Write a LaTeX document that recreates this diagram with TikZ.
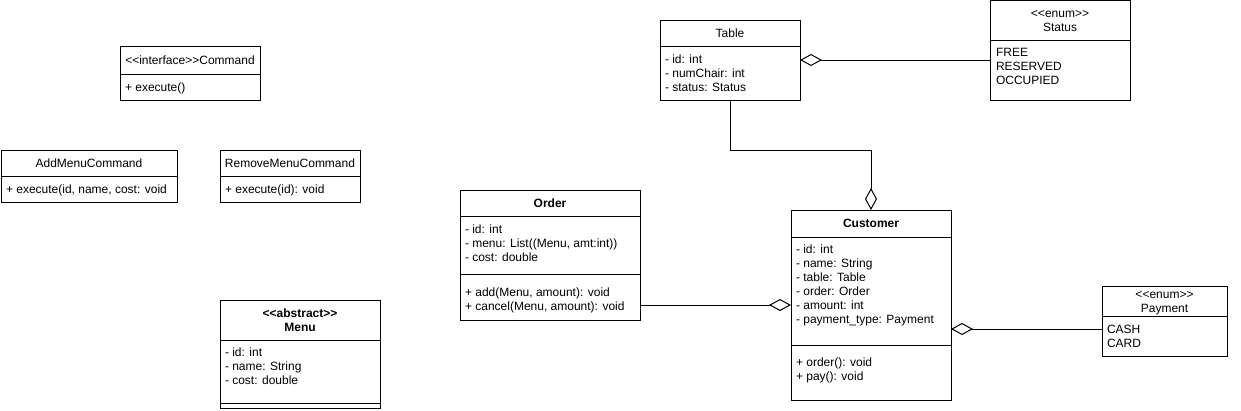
\documentclass[tikz,border=0pt]{standalone}
\usepackage{fontspec}
\setmainfont{Liberation Sans}
\usetikzlibrary{arrows.meta}
\newcommand\attrlines[4]{%
  \foreach \t [count=\i] in {#4} {\node[txt] (#1-\i) at (#2, #3+14*\i-14) {\t};}}
\begin{document}
\begin{tikzpicture}[x=1pt,y=-1pt,line width=1pt,
  box/.style={draw, rectangle, anchor=north west, inner sep=0pt, outer sep=0pt},
  txt/.style={anchor=base west, inner sep=0pt, font=\fontsize{12}{14}\selectfont},
  ctr/.style={anchor=base, inner sep=0pt, font=\fontsize{12}{14}\selectfont},
  hdr/.style={anchor=base, inner sep=0pt, font=\fontsize{12}{14}\selectfont\bfseries},
  agg/.style={-{Diamond[open,length=22pt,width=12pt]}}]
\useasboundingbox (0,0) rectangle (1241,410);

% Command
\node[box, minimum width=140pt, minimum height=54pt] (Command) at (120,46) {};
\draw (120,74) -- (260,74);
\node[ctr] (cmd-h) at (190,64) {<{}<interface>{}>Command};
\attrlines{cmd}{124.5}{91}{+ execute()}

% AddMenuCommand
\node[box, minimum width=176pt, minimum height=52pt] (AddMenu) at (1,150) {};
\draw (1,176) -- (177,176);
\node[ctr] (add-h) at (89,167.5) {AddMenuCommand};
\attrlines{add}{5.5}{193}{{+ execute(id, name, cost: void}}

% RemoveMenuCommand
\node[box, minimum width=140pt, minimum height=52pt] (RemoveMenu) at (220,150) {};
\draw (220,176) -- (360,176);
\node[ctr] (rem-h) at (290,167.5) {RemoveMenuCommand};
\attrlines{rem}{224.5}{193}{{+ execute(id): void}}

% Menu
\node[box, minimum width=160pt, minimum height=108pt] (Menu) at (220,300) {};
\draw (220,340) -- (380,340);
\draw (220,403) -- (380,403);
\node[hdr] (menu-s) at (300,317) {<{}<abstract>{}>};
\node[hdr] (menu-h) at (300,331) {Menu};
\attrlines{menu}{224.5}{356}{- id: int, - name: String, - cost: double}

% Order
\node[box, minimum width=180pt, minimum height=130pt] (Order) at (460,190) {};
\draw (460,216) -- (640,216);
\draw (460,274) -- (640,274);
\node[hdr] (ord-h) at (550,207.5) {Order};
\attrlines{orda}{464.5}{233}{- id: int, {- menu: List((Menu, amt:int))}, - cost: double}
\attrlines{ordm}{464.5}{296}{{+ add(Menu, amount): void}, {+ cancel(Menu, amount): void}}

% Table
\node[box, minimum width=140pt, minimum height=80pt] (Table) at (660,20) {};
\draw (660,46) -- (800,46);
\node[ctr] (tab-h) at (730,37.5) {Table};
\attrlines{tab}{664.5}{63}{- id: int, - numChair: int, - status: Status}

% Status
\node[box, minimum width=140pt, minimum height=100pt] (Status) at (990,0.5) {};
\draw (990,40) -- (1130,40);
\node[ctr] (st-s) at (1060,17) {<{}<enum>{}>};
\node[ctr] (st-h) at (1060,31) {Status};
\attrlines{st}{995.5}{56}{FREE, RESERVED, OCCUPIED}

% Customer
\node[box, minimum width=160pt, minimum height=190pt] (Customer) at (791,210) {};
\draw (791,237) -- (951,237);
\draw (791,345) -- (951,345);
\node[hdr] (cus-h) at (871,227.5) {Customer};
\attrlines{cusa}{795.5}{253}{- id: int, - name: String, - table: Table, - order: Order, - amount: int, - payment\_type: Payment}
\attrlines{cusm}{795.5}{366}{{+ order(): void}, {+ pay(): void}}

% Payment
\node[box, minimum width=125pt, minimum height=70pt] (Payment) at (1102,286) {};
\draw (1102,316) -- (1227,316);
\node[ctr] (pay-s) at (1164.5,298) {<{}<enum>{}>};
\node[ctr] (pay-h) at (1164.5,312) {Payment};
\attrlines{pay}{1106.5}{333}{CASH, CARD}

% connectors
\draw[agg] (Status.west |- Table.east) -- (Table.east);
\draw[agg] (Table.south) -- ++(0,50) -| (Customer.north);
\draw[agg] (Order.east |- Customer.west) -- (Customer.west);
\coordinate (payline) at ([yshift=-8pt]Payment.west);
\draw[agg] (payline) -- (payline -| Customer.east);
\end{tikzpicture}
\end{document}
